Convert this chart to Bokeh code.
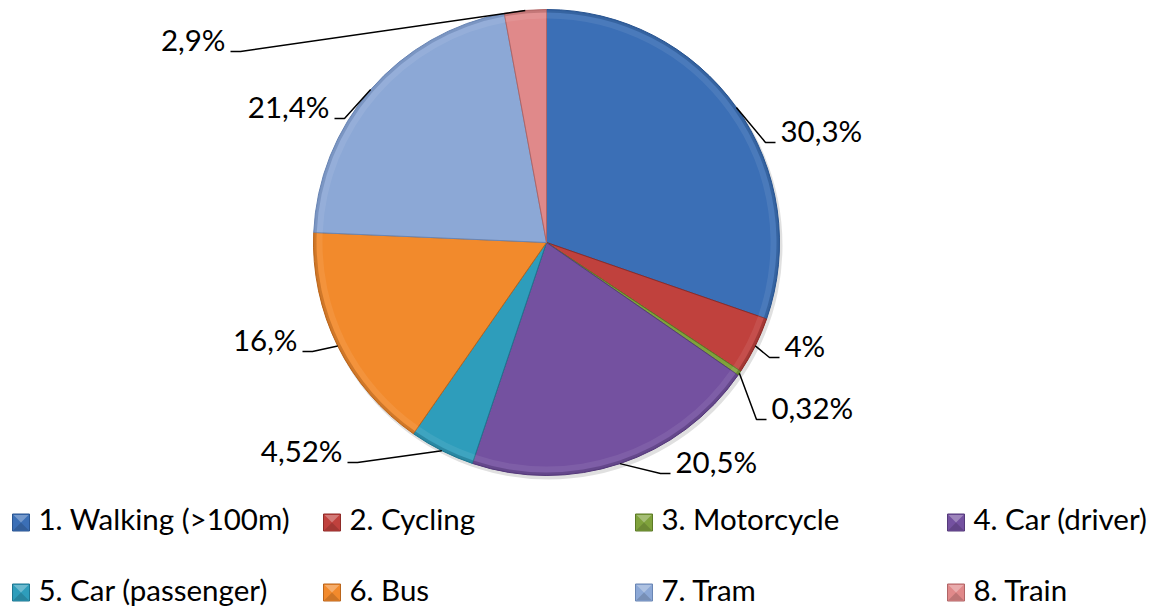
import math
from bokeh.plotting import figure
from bokeh.models import Range1d
from bokeh.core.properties import value
from bokeh.embed import file_html
from bokeh.resources import INLINE

# ---- data ----
categories = ["1. Walking (>100m)", "2. Cycling", "3. Motorcycle", "4. Car (driver)",
              "5. Car (passenger)", "6. Bus", "7. Tram", "8. Train"]
shares = [30.3, 4.0, 0.32, 20.5, 4.52, 16.0, 21.4, 2.9]
share_labels = ["30,3%", "4%", "0,32%", "20,5%", "4,52%", "16,%", "21,4%", "2,9%"]
colors = ["#3B6FB6", "#C0413D", "#7FA23C", "#7451A0", "#2E9DBB", "#F28A2C", "#8CA8D6", "#E0898A"]
edge_colors = ["#2A5590", "#8E2B28", "#5C7A26", "#553A7A", "#1F7690", "#B9651C", "#6A86B4", "#B06566"]

# ---- layout (picture pixels) ----
CX, CY, R = 546, 242, 233
elbows = [(765, 142), (769, 357), (756, 419), (660, 473), (357, 462), (312, 351), (344, 118), (240, 51)]
sides = [1, 1, 1, 1, -1, -1, -1, -1]
legend_cols = [12, 323, 635, 947]
legend_sq_rows = [522, 592]
legend_text_mid = [518, 588.5]
FONT = "Lato"
FS = "29.5px"

W, H = 1157, 606
p = figure(width=W, height=H, output_backend="svg", toolbar_location=None,
           x_range=Range1d(0, W), y_range=Range1d(-H, 0),
           min_border=0, outline_line_color=None)
p.axis.visible = False
p.grid.visible = False
p.background_fill_color = "white"
p.border_fill_color = "white"

total = sum(shares)
cum = 0.0
starts, ends, mids = [], [], []
for s in shares:
    a0 = math.pi / 2 - 2 * math.pi * cum / total
    cum += s
    a1 = math.pi / 2 - 2 * math.pi * cum / total
    starts.append(a0)
    ends.append(a1)
    mids.append((a0 + a1) / 2)

# soft shadow
p.wedge(x=CX + 2, y=-(CY + 3), radius=R + 1, start_angle=0, end_angle=2 * math.pi,
        fill_color="#000000", fill_alpha=0.12, line_color=None)

p.wedge(x=[CX] * 8, y=[-CY] * 8, radius=R, start_angle=starts, end_angle=ends,
        direction="clock", fill_color=colors, line_color=edge_colors, line_width=1)

# bevel rim
p.annular_wedge(x=[CX] * 8, y=[-CY] * 8, inner_radius=R - 9, outer_radius=R - 1,
                start_angle=starts, end_angle=ends, direction="clock",
                fill_color="white", fill_alpha=0.08, line_color=None)
p.annular_wedge(x=[CX] * 8, y=[-CY] * 8, inner_radius=R - 3, outer_radius=R,
                start_angle=starts, end_angle=ends, direction="clock",
                fill_color=edge_colors, fill_alpha=0.6, line_color=None)

# leader lines and labels
for i, lab in enumerate(share_labels):
    sx = CX + R * math.cos(mids[i])
    sy = CY - R * math.sin(mids[i])
    ex, ey = elbows[i]
    hx = ex + 10 * sides[i]
    p.line(x=[sx, ex, hx], y=[-sy, -ey, -ey], line_color="black", line_width=1.5)
    tx = hx + 5 * sides[i]
    p.text(x=[tx], y=[-(ey - 12)], text=[lab], text_font=value(FONT), text_font_size=FS,
           text_color="black", text_baseline="middle",
           text_align="left" if sides[i] > 0 else "right")

# legend
for i, cat in enumerate(categories):
    col = legend_cols[i % 4]
    row = legend_sq_rows[i // 4]
    tm = legend_text_mid[i // 4]
    x0, x1 = col, col + 17
    y0, y1 = -(row - 8.5), -(row + 8.5)
    xc, yc = col + 8.5, -row
    p.rect(x=[xc], y=[yc], width=17, height=17, fill_color=colors[i],
           line_color=edge_colors[i], line_width=1)
    p.patch(x=[x0 + 1, x1 - 1, xc], y=[y0 - 1, y0 - 1, yc], fill_color="white",
            fill_alpha=0.3, line_color=None)
    p.patch(x=[x0 + 1, x1 - 1, xc], y=[y1 + 1, y1 + 1, yc], fill_color="black",
            fill_alpha=0.15, line_color=None)
    p.text(x=[col + 26], y=[-tm], text=[cat], text_font=value(FONT), text_font_size=FS,
           text_color="black", text_baseline="middle", text_align="left")

open("out.html", "w").write(file_html(p, INLINE))
